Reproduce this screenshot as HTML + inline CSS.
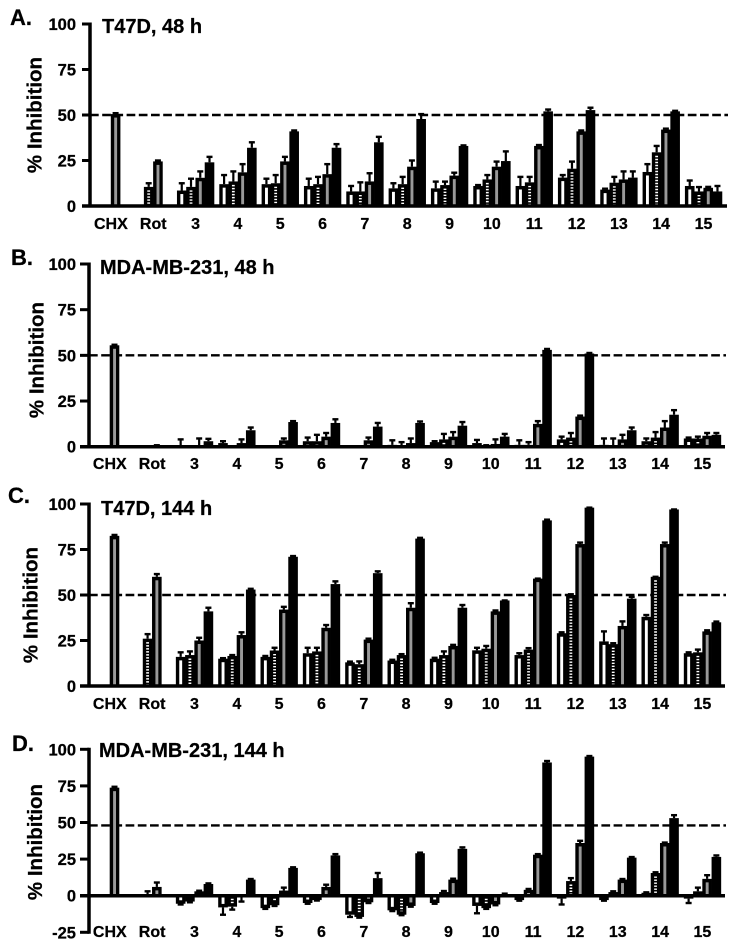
<!DOCTYPE html>
<html lang="en">
<head>
<meta charset="utf-8">
<title>% Inhibition panels</title>
<style>
html,body{margin:0;padding:0;background:#fff}
svg{display:block}
text{font-family:"Liberation Sans",Arial,sans-serif;font-weight:bold;fill:#000;stroke:#000;stroke-width:.25px}
</style>
</head>
<body>
<svg id="figure" width="737" height="947" viewBox="0 0 737 947" xmlns="http://www.w3.org/2000/svg"></svg>
<script>
const categories = ["CHX","Rot","3","4","5","6","7","8","9","10","11","12","13","14","15"];
const yTicksStandard = [100,75,50,25,0];
const yTicksExtended = [100,75,50,25,0,-25];
const referenceLevels = [50,50,50,48];

const valuesA = [
[null,null,50.5,null],[null,10.5,24.5,null],[8.5,10.5,15.5,24],[12,13.5,18.5,32],[12,12.5,24.5,41],
[11,12,17.5,32],[8,8,13.5,35],[9.7,12,21.6,47.8],[9.7,11.5,16.7,33],[11,14.6,21.6,24.7],
[11,13,33,52],[15.6,20.5,41,52.7],[9,12.8,14.6,15.6],[18.7,29.5,42,52],[11,8,10,8]];
const errorsA = [
[null,null,51,null],[null,12.5,25,null],[12.5,15,19,27],[17,19,23,35],[15,17,27,41.5],
[15,16,23,34],[11,13,18,38],[12.5,16,25,50.5],[13.4,13.4,18.3,33.3],[11.5,17,24.4,30],
[16,16,33.5,53],[17,24.4,41.5,54],[9.5,16,19,19],[23,33,42.5,52.3],[14,10.4,10.5,11]];

const valuesB = [
[null,null,55.5,null],[null,null,0.5,null],[0.2,null,0.2,3],[2,null,2,9],[null,null,3.5,13.5],
[3,3,5.5,13],[null,null,3.5,11],[1,0.3,2,13],[2.5,4,5.5,11.5],[2,0.5,1.5,5.5],
[1,1,12.5,53],[4,5,16.5,51],[1,0.5,4,9],[3,5,10.5,17.5],[4.5,4.5,6,6.5]];
const errorsB = [
[null,null,55.8,null],[null,null,0.8,null],[4,null,4.5,4.3],[3,null,4,10.5],[null,null,4.5,14],
[5,6.5,7.5,15],[null,null,5,13],[3.5,2.5,4.5,13.8],[3,7,8,13.5],[3.7,0.8,4,7],
[3.5,2.5,14,53.5],[5.5,7.5,17,51.3],[4.5,4.5,6.5,10.5],[4.5,8,14,20],[5,5.5,7.5,7.5]];

const valuesC = [
[null,null,82.5,null],[null,26,60,null],[16,17,25,41],[15,16.5,28,53],[16,19.5,42,71],
[18,19,32,56],[13,12,25.5,62],[14,17,43,81],[15,17,22,43],[19.6,20.5,41,47],
[17,20,59,91],[29,50,78,98],[24.5,23,33,48],[38,60,78,97],[18,18.5,30,35]];
const errorsC = [
[null,null,83,null],[null,28.5,61.5,null],[18.5,19,26.5,43],[15.3,17,29.5,53.4],[16.5,21,43.5,71.4],
[21,21,33.5,57.5],[13.4,13.5,26,63],[14.4,17.5,45.5,81.4],[15.5,19,22.6,44.5],[21,22,41.5,47],
[18,20.8,59,91.4],[29.5,50.4,78.8,98],[30,23.5,35.5,49],[39,60,78.8,97],[18.5,20,30.6,35.4]];

const valuesD = [
[null,null,73.8,null],[null,0.3,6,null],[-5.5,-4,3,8],[-8,-7.5,-1,11],[-8.5,-6.5,3.5,19],
[-5,-3,6,27.5],[-13,-14.5,-4.5,12],[-10,-13,-7,29],[-5,2.5,11,32],[-7,-8.5,-6,1],
[-3,4,28,91],[-2,10,36,95],[-3,2.5,11,26],[2,15.5,36,53],[-2,3,11.5,26.5]];
const errorsD = [
[null,null,74.4,null],[null,3,9,null],[-6,-4.5,3.4,8.4],[-13,-9.5,-4,11.4],[-9,-7,5.5,19.4],
[-5.5,-3.3,7.5,28.4],[-14.5,-15,-5,15.5],[-10.5,-13.3,-7.5,29.4],[-5.5,3.2,11.6,33],[-12,-9,-6.5,1.4],
[-3.4,4.6,28.4,92],[-6,12,37.5,95.4],[-3.4,3,11.4,26.4],[2.3,16,36.3,55],[-5,5.5,14,27.5]];

const panels = [
{id:"a",letter:"A.",title:"T47D, 48 h",values:valuesA,errors:errorsA,ref:referenceLevels[0],ticks:yTicksStandard,y0:206,y100:24,axisX:90,axisL:82,axisR:727,start:92.3,lx:10,ly:25,tx:102,ty:33,yx:41.5,yy:115,cb:229,bottom:206},
{id:"b",letter:"B.",title:"MDA-MB-231, 48 h",values:valuesB,errors:errorsB,ref:referenceLevels[1],ticks:yTicksStandard,y0:446.7,y100:264,axisX:89,axisL:80,axisR:725,start:91.2,lx:11,ly:265,tx:100,ty:274,yx:43.5,yy:360,cb:469,bottom:446.7},
{id:"c",letter:"C.",title:"T47D, 144 h",values:valuesC,errors:errorsC,ref:referenceLevels[2],ticks:yTicksStandard,y0:686,y100:504,axisX:89,axisL:80,axisR:725,start:91.2,lx:8,ly:503,tx:101,ty:515,yx:37.5,yy:605,cb:709,bottom:686},
{id:"d",letter:"D.",title:"MDA-MB-231, 144 h",values:valuesD,errors:errorsD,ref:referenceLevels[3],ticks:yTicksExtended,y0:895.7,y100:749.3,axisX:89,axisL:80,axisR:725,start:91.2,lx:12,ly:751,tx:99,ty:757,yx:42,yy:842,cb:937,bottom:932.3}
];

const NS = "http://www.w3.org/2000/svg";
const svg = document.getElementById("figure");
const GROUP_PITCH = 42.33, SLOT = 9.25, BAR_W = 9.6;

function make(parent, tag, attrs, txt){
  const n = document.createElementNS(NS, tag);
  for (const k in attrs) n.setAttribute(k, attrs[k]);
  if (txt !== undefined) n.textContent = txt;
  parent.appendChild(n);
  return n;
}

panels.forEach(function(p){
  const yScale = function(v){ return p.y0 - (v/100)*(p.y0-p.y100); };
  const xScale = function(g, s){ return p.start + g*GROUP_PITCH + s*SLOT; };

  const g = make(svg, "g", {});
  
  

  const letter = make(g, "text", {x:p.lx, y:p.ly, "font-size":22}, p.letter);
  
  

  const title = make(g, "text", {x:p.tx, y:p.ty, "font-size":20}, p.title);
  
  

  const yTitle = make(g, "text", {x:p.yx, y:p.yy, "font-size":20.5, "text-anchor":"middle", transform:"rotate(-90 "+p.yx+" "+p.yy+")"}, "% Inhibition");
  
  

  const ref = make(g, "line", {x1:p.axisX, x2:p.axisR+1, y1:yScale(p.ref), y2:yScale(p.ref), stroke:"#000", "stroke-width":2.4, "stroke-dasharray":"8.7 3.5"});
  
  

  p.values.forEach(function(row, gi){
    row.forEach(function(v, si){
      if (v === null) return;
      const x = xScale(gi, si);
      const top = yScale(Math.max(v,0));
      const bot = yScale(Math.min(v,0));
      const bar = make(g, "rect", {x:x, y:top, width:BAR_W, height:Math.max(bot-top,1), fill:"#000"});
      
      
      const innerH = bot - top - 3.5;
      if (si < 3 && innerH > 0) {
        const ix = x + 3.4;
        const iy = v >= 0 ? top + 3.5 : top;
        if (si === 1) {
          const dots = make(g, "line", {x1:ix+1.4, x2:ix+1.4, y1:iy, y2:iy+innerH, stroke:"#fff", "stroke-width":2.8, "stroke-dasharray":"1.4 1.6"});
          
          
        } else {
          const fill = make(g, "rect", {x:ix, y:iy, width:2.9, height:innerH, fill: si === 0 ? "#fff" : "#999"});
          
          
        }
      }
      const e = p.errors[gi][si];
      if (e !== null && e !== undefined) {
        const cx = x + BAR_W/2;
        const stem = make(g, "line", {x1:cx, x2:cx, y1:yScale(v), y2:yScale(e), stroke:"#000", "stroke-width":2.2});
        
        
        const cap = make(g, "line", {x1:cx-3, x2:cx+3, y1:yScale(e), y2:yScale(e), stroke:"#000", "stroke-width":2.4});
        
        
      }
    });
    const lab = make(g, "text", {x:p.start + gi*GROUP_PITCH + 18.6, y:p.cb, "font-size":16, "text-anchor":"middle"}, categories[gi]);
    
    
  });

  const yAxis = make(g, "line", {x1:p.axisX, x2:p.axisX, y1:yScale(100)-1.5, y2:p.bottom+1.5, stroke:"#000", "stroke-width":3.5});
  
  

  const xAxis = make(g, "line", {x1:p.axisL, x2:p.axisR, y1:p.y0, y2:p.y0, stroke:"#000", "stroke-width":3.5});
  
  

  p.ticks.forEach(function(t){
    const y = yScale(t);
    const tick = make(g, "line", {x1:p.axisL, x2:p.axisX, y1:y, y2:y, stroke:"#000", "stroke-width":3});
    
    
    const lab = make(g, "text", {x:76, y:y+6, "font-size":16.5, "text-anchor":"end"}, String(t));
    
    
  });
});
</script>
</body>
</html>
